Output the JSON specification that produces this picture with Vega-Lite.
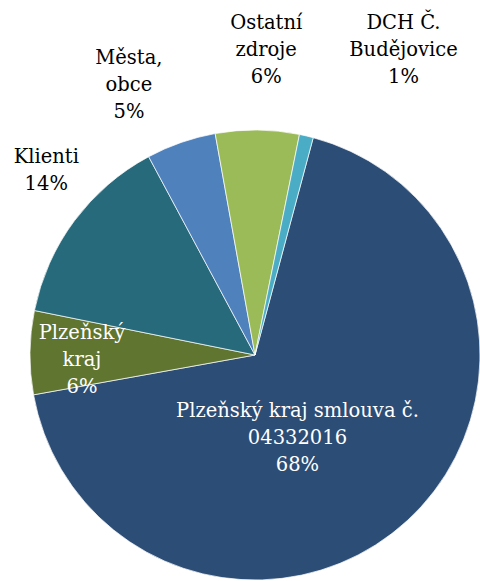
{
  "$schema": "https://vega.github.io/schema/vega-lite/v6.json",
  "autosize": "none",
  "width": 450,
  "height": 450,
  "padding": {"left": 30, "top": 130, "right": 0, "bottom": 1},
  "background": "white",
  "config": {"view": {"stroke": null}, "text": {"font": "DejaVu Serif", "fontSize": 19.5, "lineHeight": 27, "lineBreak": "\n"}},
  "data": {
    "values": [
      {"k": 1, "name": "Plzeňský kraj smlouva č. 04332016", "label": "Plzeňský kraj smlouva č.\n04332016\n68%", "value": 68},
      {"k": 2, "name": "Plzeňský kraj", "label": "Plzeňský\nkraj\n6%", "value": 6},
      {"k": 3, "name": "Klienti", "label": "Klienti\n14%", "value": 14},
      {"k": 4, "name": "Města, obce", "label": "Města,\nobce\n5%", "value": 5},
      {"k": 5, "name": "Ostatní zdroje", "label": "Ostatní\nzdroje\n6%", "value": 6},
      {"k": 6, "name": "DCH Č. Budějovice", "label": "DCH Č.\nBudějovice\n1%", "value": 1}
    ]
  },
  "encoding": {
    "theta": {"field": "value", "type": "quantitative", "stack": true, "scale": {"range": [0.2618, 6.5450]}},
    "order": {"field": "k", "type": "quantitative"}
  },
  "layer": [
    {
      "mark": {"type": "arc", "stroke": "#ffffff", "strokeWidth": 0.7},
      "encoding": {
        "color": {"field": "name", "type": "nominal", "legend": null,
          "scale": {"domain": ["Plzeňský kraj smlouva č. 04332016", "Plzeňský kraj", "Klienti", "Města, obce", "Ostatní zdroje", "DCH Č. Budějovice"],
                    "range": ["#2C4D75", "#5F7530", "#276A7C", "#4F81BD", "#9BBB59", "#4BACC6"]}}
      }
    },
    {
      "mark": {"type": "text", "radius": 110, "dx": -32, "dy": -25, "color": "white", "baseline": "middle", "align": "center"},
      "encoding": {"text": {"condition": {"test": "datum.k == 1", "field": "label"}, "value": ""}}
    },
    {
      "mark": {"type": "text", "radius": 174, "dx": 1, "dy": -20, "color": "white", "baseline": "middle", "align": "center"},
      "encoding": {"text": {"condition": {"test": "datum.k == 2", "field": "label"}, "value": ""}}
    },
    {
      "mark": {"type": "text", "radius": 260, "dx": 0, "dy": -43, "color": "black", "baseline": "middle", "align": "center"},
      "encoding": {"text": {"condition": {"test": "datum.k == 3", "field": "label"}, "value": ""}}
    },
    {
      "mark": {"type": "text", "radius": 286, "dx": -32, "dy": -27, "color": "black", "baseline": "middle", "align": "center"},
      "encoding": {"text": {"condition": {"test": "datum.k == 4", "field": "label"}, "value": ""}}
    },
    {
      "mark": {"type": "text", "radius": 305, "dx": 8, "dy": -27, "color": "black", "baseline": "middle", "align": "center"},
      "encoding": {"text": {"condition": {"test": "datum.k == 5", "field": "label"}, "value": ""}}
    },
    {
      "mark": {"type": "text", "radius": 313, "dx": 77, "dy": -27, "color": "black", "baseline": "middle", "align": "center"},
      "encoding": {"text": {"condition": {"test": "datum.k == 6", "field": "label"}, "value": ""}}
    }
  ]
}
